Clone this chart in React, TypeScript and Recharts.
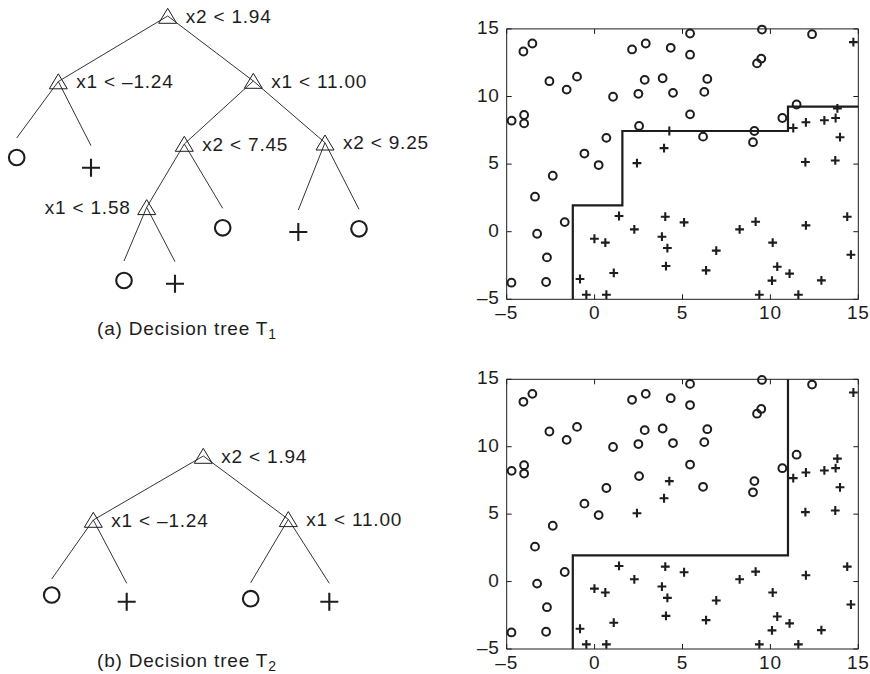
import React from 'react';
import { ScatterChart, Scatter, XAxis, YAxis, ReferenceLine } from 'recharts';

const INK = '#1d1d1d';
const FONT = '"Liberation Sans", Arial, Helvetica, sans-serif';

// class "o" samples as (x1, x2)
const circlePts = [
  { x1: -4.05, x2: 13.33 }, { x1: -3.54, x2: 13.92 }, { x1: -2.57, x2: 11.13 }, { x1: -1.59, x2: 10.51 },
  { x1: -1.0, x2: 11.47 }, { x1: 1.05, x2: 9.98 }, { x1: 2.13, x2: 13.48 }, { x1: 2.91, x2: 13.92 },
  { x1: 2.49, x2: 10.2 }, { x1: 2.85, x2: 11.23 }, { x1: 3.87, x2: 11.35 }, { x1: 4.33, x2: 13.6 },
  { x1: 4.46, x2: 10.27 }, { x1: 5.43, x2: 14.66 }, { x1: 5.43, x2: 13.09 }, { x1: 5.43, x2: 8.68 },
  { x1: 6.24, x2: 10.34 }, { x1: 6.41, x2: 11.3 }, { x1: 6.17, x2: 7.03 }, { x1: 2.53, x2: 7.82 },
  { x1: 0.67, x2: 6.94 }, { x1: 9.52, x2: 14.95 }, { x1: 9.48, x2: 12.8 }, { x1: 9.24, x2: 12.45 },
  { x1: 9.09, x2: 7.45 }, { x1: 9.01, x2: 6.62 }, { x1: 10.68, x2: 8.41 }, { x1: 11.49, x2: 9.41 },
  { x1: 12.37, x2: 14.61 }, { x1: -4.72, x2: 8.21 }, { x1: -4.01, x2: 8.63 }, { x1: -4.01, x2: 8.01 },
  { x1: -0.58, x2: 5.78 }, { x1: 0.23, x2: 4.93 }, { x1: -2.38, x2: 4.14 }, { x1: -3.39, x2: 2.59 },
  { x1: -1.7, x2: 0.71 }, { x1: -3.27, x2: -0.15 }, { x1: -2.71, x2: -1.9 }, { x1: -2.76, x2: -3.72 },
  { x1: -4.73, x2: -3.77 },
];

// class "+" samples as (x1, x2)
const plusPts = [
  { x1: 14.72, x2: 14.02 }, { x1: 13.81, x2: 9.12 }, { x1: 12.02, x2: 8.09 }, { x1: 13.07, x2: 8.24 },
  { x1: 13.71, x2: 8.41 }, { x1: 11.3, x2: 7.67 }, { x1: 13.96, x2: 6.99 }, { x1: 11.99, x2: 5.15 },
  { x1: 13.69, x2: 5.27 }, { x1: 4.25, x2: 7.45 }, { x1: 3.95, x2: 6.18 }, { x1: 2.41, x2: 5.07 },
  { x1: 1.39, x2: 1.16 }, { x1: 2.26, x2: 0.17 }, { x1: 4.02, x2: 1.11 }, { x1: 5.09, x2: 0.69 },
  { x1: -0.01, x2: -0.52 }, { x1: 0.61, x2: -0.81 }, { x1: 3.83, x2: -0.37 }, { x1: 4.14, x2: -1.21 },
  { x1: 4.06, x2: -2.54 }, { x1: 6.92, x2: -1.4 }, { x1: 6.34, x2: -2.86 }, { x1: 1.09, x2: -3.05 },
  { x1: -0.83, x2: -3.5 }, { x1: -0.47, x2: -4.66 }, { x1: 0.67, x2: -4.66 }, { x1: 8.25, x2: 0.17 },
  { x1: 9.16, x2: 0.74 }, { x1: 10.13, x2: -0.81 }, { x1: 10.39, x2: -2.59 }, { x1: 11.09, x2: -3.1 },
  { x1: 10.09, x2: -3.62 }, { x1: 9.37, x2: -4.66 }, { x1: 11.59, x2: -4.66 }, { x1: 12.9, x2: -3.6 },
  { x1: 12.02, x2: 0.47 }, { x1: 14.37, x2: 1.11 }, { x1: 14.58, x2: -1.7 },
];

const axisTicks = [-5, 0, 5, 10, 15];

// decision boundaries from the split thresholds
const boundaryT1 = [
  { x1: -1.24, x2: -5 }, { x1: -1.24, x2: 1.94 }, { x1: 1.58, x2: 1.94 }, { x1: 1.58, x2: 7.45 },
  { x1: 11.0, x2: 7.45 }, { x1: 11.0, x2: 9.25 }, { x1: 15, x2: 9.25 },
];
const boundaryT2 = [
  { x1: -1.24, x2: -5 }, { x1: -1.24, x2: 1.94 }, { x1: 11.0, x2: 1.94 }, { x1: 11.0, x2: 15 },
];

// tree layouts (panel units): internal split nodes and leaf stems
const splitsT1 = [
  { id: 'r', x: 167.7, y: 16, label: 'x2 < 1.94' },
  { id: 'a', parent: 'r', x: 58.3, y: 81.5, label: 'x1 < \u20131.24' },
  { id: 'b', parent: 'r', x: 253.3, y: 81, label: 'x1 < 11.00' },
  { id: 'c', parent: 'b', x: 184.3, y: 144, label: 'x2 < 7.45' },
  { id: 'd', parent: 'b', x: 325, y: 142.7, label: 'x2 < 9.25' },
  { id: 'e', parent: 'c', x: 146.7, y: 207.3, label: 'x1 < 1.58', side: 'left' },
];
const leavesT1 = [
  { parent: 'a', x: 16.7, y: 138, cls: 'o' },
  { parent: 'a', x: 91, y: 145.7, cls: '+' },
  { parent: 'c', x: 222.7, y: 208.3, cls: 'o' },
  { parent: 'd', x: 298.3, y: 210, cls: '+' },
  { parent: 'd', x: 359, y: 209.3, cls: 'o' },
  { parent: 'e', x: 124, y: 261, cls: 'o' },
  { parent: 'e', x: 175, y: 261.7, cls: '+' },
];

const splitsT2 = [
  { id: 'r', x: 203.3, y: 56, label: 'x2 < 1.94' },
  { id: 'a', parent: 'r', x: 93.3, y: 120, label: 'x1 < \u20131.24' },
  { id: 'b', parent: 'r', x: 288.3, y: 119.3, label: 'x1 < 11.00' },
];
const leavesT2 = [
  { parent: 'a', x: 51.7, y: 179, cls: 'o' },
  { parent: 'a', x: 126.7, y: 183.3, cls: '+' },
  { parent: 'b', x: 250.7, y: 182.7, cls: 'o' },
  { parent: 'b', x: 329.3, y: 183.3, cls: '+' },
];

const fmt = (v: number) => (v < 0 ? `\u2013${-v}` : `${v}`);
const textStyle = { fontFamily: FONT, fontSize: 19, letterSpacing: 0.8, fill: INK };

// inward MATLAB-style ticks
const BottomTick = ({ x, y, payload }: any) => (
  <g>
    <line x1={x} x2={x} y1={y} y2={y - 5} stroke={INK} strokeWidth={1} />
    <text x={x} y={y + 20} textAnchor="middle" {...textStyle}>{fmt(payload.value)}</text>
  </g>
);
const LeftTick = ({ x, y, payload }: any) => (
  <g>
    <line x1={x} x2={x + 5} y1={y} y2={y} stroke={INK} strokeWidth={1} />
    <text x={x - 7} y={y + 5} textAnchor="end" {...textStyle}>{fmt(payload.value)}</text>
  </g>
);
const TopTick = ({ x, y }: any) => <line x1={x} x2={x} y1={y} y2={y + 5} stroke={INK} strokeWidth={1} />;
const RightTick = ({ x, y }: any) => <line x1={x} x2={x - 5} y1={y} y2={y} stroke={INK} strokeWidth={1} />;

const Ring = ({ cx, cy }: any) => <circle cx={cx} cy={cy} r={3.9} fill="none" stroke={INK} strokeWidth={2} />;
const Cross = ({ cx, cy }: any) => (
  <path d={`M${cx - 4.4},${cy}H${cx + 4.4}M${cx},${cy - 4.4}V${cy + 4.4}`} stroke={INK} strokeWidth={2.1} />
);
const Nothing = () => <g />;

const axisLine = { stroke: INK, strokeWidth: 1 };

const ScatterPanel = ({ boundary, height, plotTop, plotBottom }: any) => (
  <ScatterChart width={410} height={height} margin={{ top: 0, right: 0, bottom: 0, left: 0 }}>
    <XAxis type="number" dataKey="x1" domain={[-5, 15]} ticks={axisTicks} interval={0} height={plotBottom}
      tickSize={0} tickMargin={0} tickLine={false} axisLine={axisLine} tick={(p: any) => <BottomTick {...p} />} />
    <XAxis xAxisId="top" orientation="top" type="number" dataKey="x1" domain={[-5, 15]} ticks={axisTicks} interval={0}
      height={plotTop} tickSize={0} tickMargin={0} tickLine={false} axisLine={axisLine} tick={(p: any) => <TopTick {...p} />} />
    <YAxis type="number" dataKey="x2" domain={[-5, 15]} ticks={axisTicks} interval={0} width={46.7}
      tickSize={0} tickMargin={0} tickLine={false} axisLine={axisLine} tick={(p: any) => <LeftTick {...p} />} />
    <YAxis yAxisId="right" orientation="right" type="number" dataKey="x2" domain={[-5, 15]} ticks={axisTicks} interval={0}
      width={11.7} tickSize={0} tickMargin={0} tickLine={false} axisLine={axisLine} tick={(p: any) => <RightTick {...p} />} />
    <Scatter data={circlePts} shape={Ring} isAnimationActive={false} />
    <Scatter data={plusPts} shape={Cross} isAnimationActive={false} />
    <Scatter data={boundary} fill={INK} shape={Nothing} line={{ stroke: INK, strokeWidth: 2.2 }} isAnimationActive={false} />
    {/* keeps the top/right frame axes bound to a series */}
    <Scatter data={boundary} xAxisId="top" yAxisId="right" shape={Nothing} isAnimationActive={false} />
  </ScatterChart>
);

const SplitNode = ({ cx, cy, payload }: any) => (
  <g>
    <path d={`M${cx},${cy - 7.7}L${cx + 9},${cy + 7.3}L${cx - 9},${cy + 7.3}Z`} fill="none" stroke={INK} strokeWidth={1} />
    <text x={payload.side === 'left' ? cx - 16 : cx + 18} y={cy + 6.5}
      textAnchor={payload.side === 'left' ? 'end' : 'start'} {...textStyle}>{payload.label}</text>
  </g>
);

// leaf symbol hangs a little below the end of its stem
const makeLeaf = (gap: number) => ({ cx, cy, payload }: any) =>
  payload.cls === 'o'
    ? <circle cx={cx} cy={cy + gap} r={7.8} fill="none" stroke={INK} strokeWidth={2.1} />
    : <path d={`M${cx - 9},${cy + gap + 2.5}H${cx + 9}M${cx},${cy + gap - 6.5}V${cy + gap + 11.5}`} stroke={INK} strokeWidth={2.1} />;

const TreePanel = ({ splits, leaves, width, height, gap }: any) => {
  const byId: Record<string, any> = Object.fromEntries(splits.map((s: any) => [s.id, s]));
  const edges = [...splits.filter((s: any) => s.parent), ...leaves].map((n: any) => [byId[n.parent], n]);
  return (
    <ScatterChart width={width} height={height} margin={{ top: 0, right: 0, bottom: 0, left: 0 }}>
      <XAxis type="number" dataKey="x" domain={[0, width]} hide />
      <YAxis type="number" dataKey="y" domain={[0, height]} reversed hide />
      {edges.map(([a, b]: any, i: number) => (
        <ReferenceLine key={i} segment={[{ x: a.x, y: a.y }, { x: b.x, y: b.y }]} stroke={INK} strokeWidth={0.9} />
      ))}
      <Scatter data={splits} shape={SplitNode} isAnimationActive={false} />
      <Scatter data={leaves} shape={makeLeaf(gap)} isAnimationActive={false} />
    </ScatterChart>
  );
};

const Caption = ({ left, top, tree, sub }: any) => (
  <div style={{ position: 'absolute', left, top, fontFamily: FONT, fontSize: 19, lineHeight: '19px',
    letterSpacing: 0.8, color: INK, whiteSpace: 'nowrap' }}>
    ({tree}) Decision tree T<span style={{ fontSize: 14, position: 'relative', top: 4 }}>{sub}</span>
  </div>
);

export default function App() {
  return (
    <div style={{ position: 'absolute', left: 0, top: 0, width: 870, height: 674, overflow: 'hidden', background: '#fff' }}>
      <div style={{ position: 'absolute', left: 0, top: 0 }}>
        <TreePanel splits={splitsT1} leaves={leavesT1} width={440} height={340} gap={19.5} />
      </div>
      <div style={{ position: 'absolute', left: 0, top: 400 }}>
        <TreePanel splits={splitsT2} leaves={leavesT2} width={440} height={274} gap={16} />
      </div>
      <Caption left={97} top={318.5} tree="a" sub="1" />
      <Caption left={97} top={650.6} tree="b" sub="2" />
      <div style={{ position: 'absolute', left: 460, top: 0 }}>
        <ScatterPanel boundary={boundaryT1} height={340} plotTop={28.9} plotBottom={40.7} />
      </div>
      <div style={{ position: 'absolute', left: 460, top: 350 }}>
        <ScatterPanel boundary={boundaryT2} height={324} plotTop={29.3} plotBottom={25} />
      </div>
    </div>
  );
}
